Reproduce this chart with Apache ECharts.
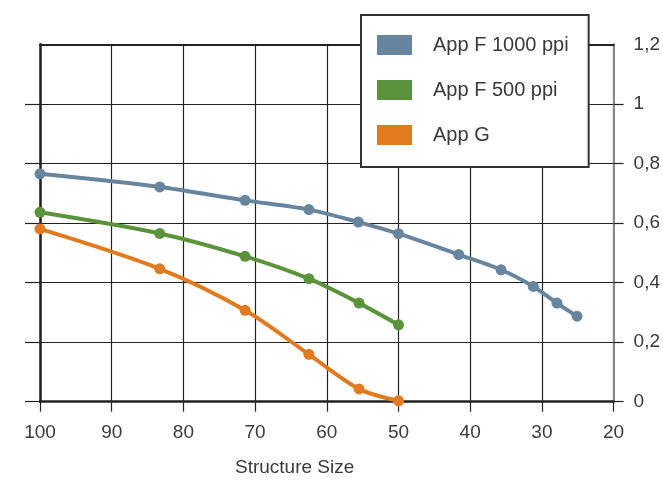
<!DOCTYPE html>
<html>
<head>
<meta charset="utf-8">
<script src="https://cdn.jsdelivr.net/npm/echarts@6/dist/echarts.min.js"></script>
<style>
html,body{margin:0;padding:0;background:#fff;}
#chart{width:663px;height:482px;}
</style>
</head>
<body>
<div id="chart"></div>
<script>
var seriesNames = ['App F 1000 ppi', 'App F 500 ppi', 'App G'];
var xBlue = [100, 83.3, 71.4, 62.5, 55.6, 50, 41.6, 35.7, 31.2, 27.9, 25.1];
var yBlue = [0.765, 0.721, 0.676, 0.645, 0.603, 0.564, 0.494, 0.443, 0.387, 0.331, 0.287];
var xGreen = [100, 83.3, 71.4, 62.5, 55.5, 50];
var yGreen = [0.636, 0.565, 0.488, 0.413, 0.331, 0.258];
var xOrange = [100, 83.3, 71.4, 62.5, 55.5, 50];
var yOrange = [0.580, 0.446, 0.307, 0.159, 0.043, 0.003];
var yTickValues = [0, 0.2, 0.4, 0.6, 0.8, 1.0];
var xAxisName = 'Structure Size';

function pairs(xs, ys) { return xs.map(function (x, i) { return [x, ys[i]]; }); }

var colors = ['#67859e', '#5a933b', '#e07c1f'];
var font = 'Liberation Sans, Arial, Helvetica, sans-serif';

var chart = echarts.init(document.getElementById('chart'), null, {renderer: 'canvas'});
var lineSeries = [pairs(xBlue, yBlue), pairs(xGreen, yGreen), pairs(xOrange, yOrange)].map(function (d, i) {
  return {
    name: seriesNames[i],
    type: 'line',
    data: d,
    smooth: 0.3,
    symbol: 'circle',
    symbolSize: 11,
    showSymbol: true,
    itemStyle: {color: colors[i]},
    lineStyle: {color: colors[i], width: 4},
    z: 5
  };
});

chart.setOption({
  animation: false,
  backgroundColor: '#fff',
  title: {
    text: xAxisName,
    left: 235,
    top: 458,
    textStyle: {fontFamily: font, fontSize: 19, fontWeight: 'normal', color: '#3a3a3a'},
    padding: 0
  },
  legend: {
    orient: 'vertical',
    left: 361,
    top: 15,
    icon: 'rect',
    itemWidth: 35,
    itemHeight: 20,
    itemGap: 25,
    padding: [20, 20, 22, 16],
    backgroundColor: '#fff',
    borderColor: '#333',
    borderWidth: 2,
    textStyle: {fontFamily: font, fontSize: 20, color: '#3a3a3a', padding: [0, 0, 0, 16]},
    data: seriesNames,
    z: 10
  },
  grid: {left: 40, right: 47.3, top: 44.3, bottom: 80.3, containLabel: false},
  xAxis: [{
    type: 'value',
    inverse: true,
    min: 20,
    max: 100,
    interval: 10,
    axisLine: {show: true, onZero: false, lineStyle: {color: '#222', width: 2.5}},
    axisTick: {show: true, inside: false, length: 10, lineStyle: {color: '#222', width: 1.2}},
    axisLabel: {margin: 22, fontFamily: font, fontSize: 19, color: '#3a3a3a'},
    splitLine: {show: true, lineStyle: {color: '#222', width: 1.2}}
  }, {
    type: 'value',
    position: 'top',
    inverse: true,
    min: 20,
    max: 100,
    interval: 10,
    axisLine: {show: true, onZero: false, lineStyle: {color: '#222', width: 2}},
    axisTick: {show: false},
    axisLabel: {show: false},
    splitLine: {show: false}
  }],
  yAxis: [{
    type: 'value',
    position: 'right',
    min: 0,
    max: 1.2,
    interval: 0.2,
    axisLine: {show: true, lineStyle: {color: '#888', width: 2}},
    axisTick: {show: true, inside: false, length: 10, customValues: yTickValues, lineStyle: {color: '#222', width: 1.2}},
    axisLabel: {
      margin: 20,
      fontFamily: font,
      fontSize: 19,
      color: '#3a3a3a',
      formatter: function (v) { return String(Math.round(v * 10) / 10).replace('.', ','); }
    },
    splitLine: {show: true, lineStyle: {color: '#222', width: 1.2}}
  }, {
    type: 'value',
    position: 'left',
    min: 0,
    max: 1.2,
    interval: 0.2,
    axisLine: {show: true, lineStyle: {color: '#222', width: 2.5}},
    axisTick: {show: true, inside: false, length: 15, customValues: yTickValues, lineStyle: {color: '#222', width: 1.2}},
    axisLabel: {show: false},
    splitLine: {show: false}
  }],
  series: lineSeries
});
</script>
</body>
</html>
